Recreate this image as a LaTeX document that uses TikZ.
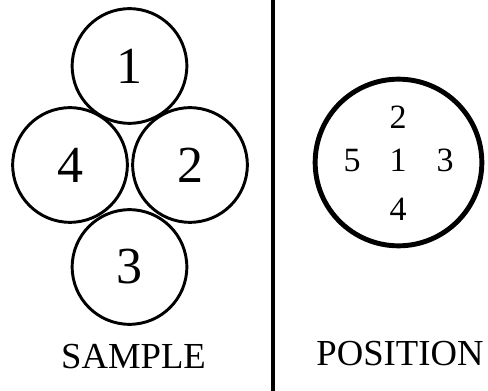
\documentclass[tikz,border=0pt]{standalone}
\usepackage{fontspec}
\setmainfont{Liberation Serif}
\usetikzlibrary{positioning}

\begin{document}
\begin{tikzpicture}[x=0.75pt, y=-0.75pt,
    sample/.style={draw, circle, line width=2.2pt, minimum size=86pt, inner sep=0pt, font=\fontsize{39}{42}\selectfont},
    posnum/.style={font=\fontsize{25.5}{28}\selectfont, inner sep=0pt},
    caption/.style={anchor=base, font=\fontsize{27.5}{30}\selectfont, inner sep=0pt}]
    \useasboundingbox (0,0) rectangle (488,391);
    % sample circles
    \node (c1) [sample] at (129.5,66) {1};
    \node (c4) [sample] at (70,165) {4};
    \node (c2) [sample] at (190,165) {2};
    \node (c3) [sample] at (129.5,267) {3};
    \node (sample) [caption] at (133.5,368) {SAMPLE};
    % divider
    \coordinate (top) at (273,0);
    \coordinate (bot) at (273,391);
    \draw[line width=3pt] (top) -- (bot);
    % position circle
    \node (pos) [draw, circle, line width=3.7pt, minimum size=125pt, inner sep=0pt] at (398.5,162.5) {};
    \node (p1) [posnum] at (398,160.5) {1};
    \node (p2) [posnum] at (398,117) {2};
    \node (p3) [posnum] at (445,160.5) {3};
    \node (p4) [posnum] at (398,209) {4};
    \node (p5) [posnum] at (352,160.5) {5};
    \node (position) [caption] at (400,365) {POSITION};
\end{tikzpicture}
\end{document}
